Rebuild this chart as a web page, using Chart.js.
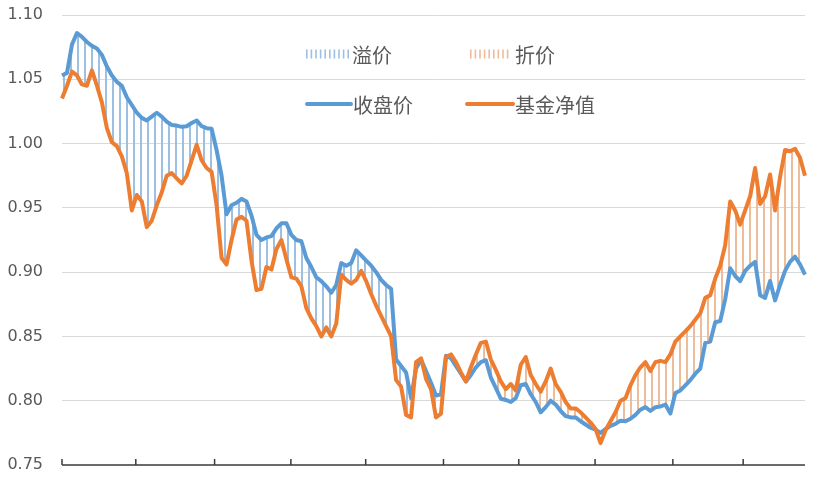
<!DOCTYPE html>
<html>
<head>
<meta charset="utf-8">
<script src="https://cdn.jsdelivr.net/npm/chart.js@4.4.1/dist/chart.umd.min.js"></script>
<style>
  html, body { margin: 0; padding: 0; background: #fff; }
  #wrap { width: 822px; height: 480px; position: relative; }
</style>
</head>
<body>
<div id="wrap"><canvas id="c" width="822" height="480"></canvas></div>
<script>
// 收盘价 (closing price)
const closePrice = [
  1.053, 1.055, 1.077, 1.086, 1.083, 1.079, 1.076, 1.074, 1.069, 1.060,
  1.053, 1.048, 1.045, 1.036, 1.030, 1.024, 1.020, 1.018, 1.021, 1.024,
  1.021, 1.017, 1.0145, 1.014, 1.013, 1.0135, 1.016, 1.018, 1.0135, 1.012,
  1.0115, 0.995, 0.975, 0.945, 0.952, 0.954, 0.957, 0.955, 0.944, 0.929,
  0.925, 0.927, 0.928, 0.934, 0.938, 0.938, 0.929, 0.925, 0.924, 0.911,
  0.904, 0.896, 0.893, 0.889, 0.884, 0.890, 0.907, 0.905, 0.907, 0.917,
  0.913, 0.909, 0.905, 0.900, 0.894, 0.890, 0.887, 0.832, 0.827, 0.822,
  0.802, 0.825, 0.832, 0.823, 0.814, 0.804, 0.805, 0.835, 0.833, 0.827,
  0.821, 0.815, 0.820, 0.826, 0.830, 0.8315, 0.818, 0.810, 0.8015, 0.8006,
  0.799, 0.802, 0.812, 0.813, 0.805, 0.799, 0.791, 0.795, 0.800, 0.797,
  0.792, 0.788, 0.787, 0.787, 0.784, 0.7815, 0.779, 0.7775, 0.775, 0.778,
  0.7805, 0.782, 0.7845, 0.784, 0.786, 0.789, 0.793, 0.795, 0.792, 0.795,
  0.7955, 0.797, 0.790, 0.806, 0.808, 0.812, 0.816, 0.821, 0.825, 0.845,
  0.846, 0.861, 0.862, 0.879, 0.903, 0.897, 0.893, 0.901, 0.905, 0.908,
  0.882, 0.880, 0.893, 0.878, 0.890, 0.901, 0.908, 0.912, 0.906, 0.898
];
// 基金净值 (fund NAV)
const fundNav = [
  1.035, 1.045, 1.056, 1.053, 1.046, 1.045, 1.057, 1.045, 1.032, 1.012,
  1.001, 0.998, 0.990, 0.977, 0.948, 0.960, 0.955, 0.935, 0.940, 0.952,
  0.962, 0.975, 0.977, 0.973, 0.969, 0.975, 0.987, 0.999, 0.987, 0.981,
  0.978, 0.952, 0.911, 0.906, 0.925, 0.941, 0.943, 0.940, 0.909, 0.886,
  0.887, 0.904, 0.902, 0.918, 0.925, 0.910, 0.896, 0.895, 0.889, 0.872,
  0.864, 0.858, 0.850, 0.857, 0.850, 0.860, 0.898, 0.894, 0.891, 0.894,
  0.901, 0.893, 0.883, 0.874, 0.866, 0.858, 0.850, 0.816, 0.811, 0.789,
  0.787, 0.830, 0.833, 0.817, 0.809, 0.787, 0.790, 0.834, 0.836, 0.830,
  0.822, 0.815, 0.826, 0.836, 0.845, 0.846, 0.832, 0.824, 0.815, 0.809,
  0.813, 0.808, 0.828, 0.834, 0.820, 0.813, 0.807, 0.815, 0.825, 0.813,
  0.807, 0.799, 0.794, 0.794, 0.791, 0.787, 0.783, 0.778, 0.767, 0.777,
  0.784, 0.791, 0.800, 0.802, 0.812, 0.820, 0.826, 0.830, 0.823, 0.830,
  0.831, 0.830, 0.836, 0.846, 0.850, 0.854, 0.858, 0.863, 0.868, 0.880,
  0.882, 0.895, 0.905, 0.921, 0.955, 0.948, 0.937, 0.948, 0.959, 0.981,
  0.953, 0.959, 0.976, 0.948, 0.974, 0.995, 0.994, 0.996, 0.989, 0.975
];
// trading-day categories
const days = closePrice.map((_, i) => i + 1);
// y-axis tick values
const yTickValues = [0.75, 0.80, 0.85, 0.90, 0.95, 1.00, 1.05, 1.10];
// x-axis month tick positions (category index units)
const monthTicks = [0, 14.8, 30.6, 45.9, 60.9, 76.5, 91.6, 106.9, 122.5, 136.6];
// legend labels
const legendLabels = ['溢价', '折价', '收盘价', '基金净值'];

const BLUE = '#5B9BD5';
const ORANGE = '#ED7D31';
const BLUE_HATCH = '#9DC0E2';
const ORANGE_HATCH = '#EDBC9B';

const canvas = document.getElementById('c');
const ctx0 = canvas.getContext('2d');
function makeHatch(color, gap, w) {
  const c = document.createElement('canvas');
  c.width = gap; c.height = 8;
  const g = c.getContext('2d');
  g.fillStyle = color;
  g.fillRect(0, 0, w, 8);
  return ctx0.createPattern(c, 'repeat');
}
const bluePattern = makeHatch(BLUE_HATCH, 7, 2);
const orangePattern = makeHatch(ORANGE_HATCH, 7, 2);

const FONT_CJK = "'Noto Sans CJK SC', 'Noto Sans', sans-serif";

const axisTicksPlugin = {
  id: 'axisTicks',
  afterDraw(chart) {
    const xs = chart.scales.x;
    const ctx = chart.ctx;
    const bottom = chart.chartArea.bottom;
    ctx.save();
    ctx.strokeStyle = '#3a3a3a';
    ctx.lineWidth = 1.5;
    ctx.beginPath();
    ctx.moveTo(chart.chartArea.left, bottom);
    ctx.lineTo(chart.chartArea.right, bottom);
    ctx.stroke();
    monthTicks.forEach(p => {
      const x = xs.getPixelForValue(p);
      ctx.beginPath();
      ctx.moveTo(x, bottom);
      ctx.lineTo(x, bottom - 6);
      ctx.stroke();
    });
    ctx.restore();
  }
};

const legendPlugin = {
  id: 'customLegend',
  afterDraw(chart) {
    const ctx = chart.ctx;
    ctx.save();
    ctx.font = '20px ' + FONT_CJK;
    ctx.textBaseline = 'middle';
    const hatchSwatch = (x, y, w, color) => {
      ctx.fillStyle = color;
      for (let px = x; px < x + w; px += 4.6) ctx.fillRect(px, y - 4.5, 1.6, 9);
    };
    const lineSwatch = (x, y, w, color) => {
      ctx.strokeStyle = color;
      ctx.lineWidth = 4;
      ctx.lineCap = 'round';
      ctx.beginPath(); ctx.moveTo(x, y); ctx.lineTo(x + w, y); ctx.stroke();
    };
    hatchSwatch(306, 54, 44, BLUE_HATCH);
    hatchSwatch(470, 54, 38, ORANGE_HATCH);
    lineSwatch(307, 104, 44, BLUE);
    lineSwatch(467, 104, 46, ORANGE);
    ctx.fillStyle = '#595959';
    ctx.fillText(legendLabels[0], 352, 55);
    ctx.fillText(legendLabels[1], 515, 55);
    ctx.fillText(legendLabels[2], 353, 105);
    ctx.fillText(legendLabels[3], 515, 105);
    ctx.restore();
  }
};

new Chart(canvas, {
  type: 'line',
  data: {
    labels: days,
    datasets: [
      {
        label: '基金净值',
        data: fundNav,
        borderColor: ORANGE,
        backgroundColor: ORANGE,
        borderWidth: 4,
        pointRadius: 0,
        tension: 0,
        fill: false,
        borderJoinStyle: 'round'
      },
      {
        label: '收盘价',
        data: closePrice,
        borderColor: BLUE,
        backgroundColor: BLUE,
        borderWidth: 4,
        pointRadius: 0,
        tension: 0,
        borderJoinStyle: 'round',
        fill: { target: 0, above: bluePattern, below: orangePattern }
      }
    ]
  },
  options: {
    responsive: false,
    animation: false,
    devicePixelRatio: 1,
    layout: { padding: { top: 15, right: 17, bottom: 15, left: 0 } },
    plugins: {
      legend: { display: false },
      tooltip: { enabled: false },
      filler: { drawTime: 'beforeDatasetsDraw' }
    },
    scales: {
      x: {
        type: 'category',
        offset: false,
        ticks: { display: false },
        grid: { display: false, drawTicks: false },
        border: { display: false },
        afterFit(s) { s.height = 0; }
      },
      y: {
        min: 0.75,
        max: 1.10,
        afterBuildTicks(s) { s.ticks = yTickValues.map(v => ({ value: v })); },
        afterFit(s) { s.width = 62; },
        ticks: {
          callback: v => Number(v).toFixed(2),
          color: '#595959',
          font: { family: "'DejaVu Sans', sans-serif", size: 16 },
          padding: 0
        },
        grid: {
          drawTicks: true,
          tickLength: 19,
          tickColor: 'rgba(0,0,0,0)',
          lineWidth: 1,
          color: c => (c.tick && Math.abs(c.tick.value - 0.75) < 1e-9) ? 'rgba(0,0,0,0)' : '#D9D9D9'
        },
        border: { display: false }
      }
    }
  },
  plugins: [axisTicksPlugin, legendPlugin]
});
</script>
</body>
</html>
